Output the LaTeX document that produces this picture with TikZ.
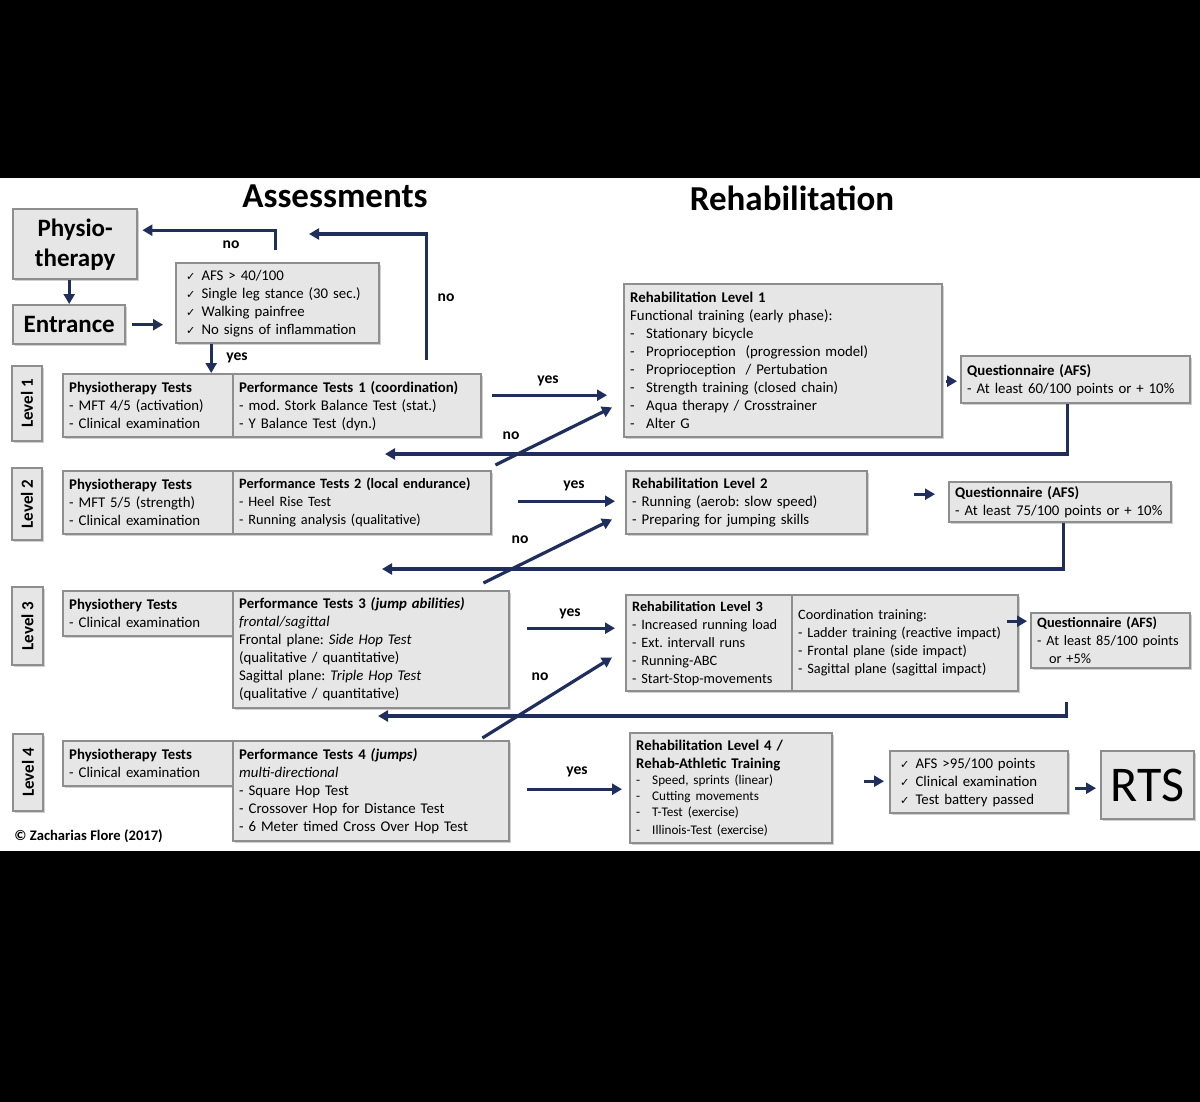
\documentclass[tikz,border=0pt]{standalone}
\usepackage{fontspec}
\setmainfont{Carlito}
\newfontfamily\symf{DejaVu Sans}
\usetikzlibrary{arrows.meta,shadows}
\definecolor{navy}{HTML}{1F2E5C}
\definecolor{boxfill}{HTML}{E6E6E6}
\definecolor{boxline}{HTML}{8E8E8E}
\newcommand\ck{{\symf\fontsize{5.6}{9}\selectfont ✓}\hspace{3pt}}
\newcommand\dsh[1]{\makebox[8pt][l]{-}#1}
\newcommand\mybox[7][]{%
  \pgfmathsetmacro\bxw{(#5-#3)*0.5}%
  \pgfmathsetmacro\bxh{(#6-#4)*0.5}%
  \pgfmathsetmacro\bxt{(#5-#3)*0.5-6}%
  \node[box,anchor=north west,minimum width=\bxw pt,minimum height=\bxh pt,text width=\bxt pt,#1] (#2) at (#3,#4) {#7};}
\begin{document}
\frenchspacing
\hyphenpenalty=10000
\exhyphenpenalty=10000
\begin{tikzpicture}[x=0.5pt,y=-0.5pt,
  box/.style={draw=boxline, fill=boxfill, line width=1.2pt, inner xsep=3pt, inner ysep=1pt, align=left,
    font=\fontsize{7.4}{9}\selectfont,
    drop shadow={shadow xshift=0.8pt, shadow yshift=-0.8pt, opacity=0.3, fill=black!60}},
  small/.style={font=\fontsize{7.15}{9}\selectfont},
  levbox/.style={box, rotate=90, align=center, inner sep=0pt, font=\bfseries\fontsize{8.5}{9}\selectfont},
  arr/.style={draw=navy, line width=1.6pt, -{Triangle[length=5pt,width=5.5pt]}},
  lbl/.style={font=\bfseries\fontsize{7.8}{9}\selectfont, inner sep=0pt},
  title/.style={font=\bfseries\fontsize{17.5}{20}\selectfont, inner sep=0pt}]
\useasboundingbox (0,0) rectangle (1200,1102);
\fill[black] (0,0) rectangle (1200,1102);
\fill[white] (0,178) rectangle (1200,851);

% titles
\node[title] (tA) at (335,196) {Assessments};
\node[title] (tR) at (792,198) {Rehabilitation};

% start
\mybox[align=center, font=\bfseries\fontsize{12.5}{15}\selectfont]{physio}{12}{208}{136}{278}{Physio-\\therapy}
\mybox[align=center, font=\bfseries\fontsize{12.5}{15}\selectfont]{entrance}{12}{304}{124}{343}{Entrance}
\mybox[text width=91.5pt, inner xsep=5pt]{check0}{175}{262}{378}{342}{\ck AFS > 40/100\\\ck Single leg stance (30 sec.)\\\ck Walking painfree\\\ck No signs of inflammation}

% level labels
\node[levbox, minimum width=37.5pt, minimum height=15pt] (lev1) at (27,403.5) {Level 1};
\node[levbox, minimum width=36pt, minimum height=15pt] (lev2) at (27,504) {Level 2};
\node[levbox, minimum width=39pt, minimum height=15.5pt] (lev3) at (27.5,626) {Level 3};
\node[levbox, minimum width=38.5pt, minimum height=15pt] (lev4) at (28,772.5) {Level 4};

% level 1
\mybox{pt1}{62}{373}{232}{436}{\textbf{Physiotherapy Tests}\\- MFT 4/5 (activation)\\- Clinical examination}
\mybox{perf1}{232}{373}{480}{436}{\textbf{Performance Tests 1 (coordination)}\\- mod. Stork Balance Test (stat.)\\- Y Balance Test (dyn.)}
\mybox{rehab1}{623}{283}{941}{436}{\textbf{Rehabilitation Level 1}\\Functional training (early phase):\\
\dsh{Stationary bicycle}\\\dsh{Proprioception\ \ (progression model)}\\\dsh{Proprioception\ \ / Pertubation}\\
\dsh{Strength training (closed chain)}\\\dsh{Aqua therapy / Crosstrainer}\\\dsh{Alter G}}
\mybox{q1}{960}{355}{1189}{402}{\textbf{Questionnaire (AFS)}\\- At least 60/100 points or + 10\%}

% level 2
\mybox{pt2}{62}{470}{232}{533}{\textbf{Physiotherapy Tests}\\- MFT 5/5 (strength)\\- Clinical examination}
\mybox[small]{perf2}{232}{470}{490}{533}{\textbf{Performance Tests 2 (local endurance)}\\- Heel Rise Test\\- Running analysis (qualitative)}
\mybox{rehab2}{625}{470}{866}{533}{\textbf{Rehabilitation Level 2}\\- Running (aerob: slow speed)\\- Preparing for jumping skills}
\mybox{q2}{948}{481}{1170}{521}{\textbf{Questionnaire (AFS)}\\- At least 75/100 points or + 10\%}

% level 3
\mybox{pt3}{62}{590}{232}{635}{\textbf{Physiothery Tests}\\- Clinical examination}
\mybox{perf3}{232}{590}{508}{707}{\textbf{Performance Tests 3 \textit{(jump abilities)}}\\\textit{frontal/sagittal}\\Frontal plane: \textit{Side Hop Test}\\(qualitative / quantitative)\\Sagittal plane: \textit{Triple Hop Test}\\(qualitative / quantitative)}
\mybox[small]{rehab3}{625}{594}{791}{690}{\textbf{Rehabilitation Level 3}\\- Increased running load\\- Ext. intervall runs\\- Running-ABC\\- Start-Stop-movements}
\mybox[small]{coord3}{791}{594}{1017}{690}{Coordination training:\\- Ladder training (reactive impact)\\- Frontal plane (side impact)\\- Sagittal plane (sagittal impact)}
\mybox[small]{q3}{1030}{612}{1189}{667}{\textbf{Questionnaire (AFS)}\\- At least 85/100 points\\\hspace*{6pt}or +5\%}

% level 4
\mybox{pt4}{62}{740}{232}{785}{\textbf{Physiotherapy Tests}\\- Clinical examination}
\mybox{perf4}{232}{740}{508}{840}{\textbf{Performance Tests 4 \textit{(jumps)}}\\\textit{multi-directional}\\- Square Hop Test\\- Crossover Hop for Distance Test\\- 6 Meter timed Cross Over Hop Test}
\mybox{rehab4}{629}{732}{831}{842}{\textbf{Rehabilitation Level 4 /}\\\textbf{Rehab-Athletic Training}\\{\fontsize{6.6}{8}\selectfont\dsh{Speed, sprints (linear)}\\\dsh{Cutting movements}\\\dsh{T-Test (exercise)}\\\dsh{Illinois-Test\ (exercise)}}}
\mybox[inner xsep=5pt, text width=79pt]{check4}{889}{750}{1067}{812}{\ck AFS >95/100 points\\\ck Clinical examination\\\ck Test battery passed}
\mybox[align=center, inner xsep=2pt, text width=42.5pt, font=\fontsize{25}{26}\selectfont]{rts}{1100}{750}{1193}{818}{RTS}

\node[font=\bfseries\fontsize{7.3}{9}\selectfont, anchor=west, inner sep=0pt] (copy) at (14,836) {© Zacharias Flore (2017)};

% connectors top
\draw[arr] (physio.south -| entrance.north) -- (entrance.north);
\draw[arr, shorten >=6pt] ([xshift=3pt]entrance.east) -- (entrance.east -| check0.west);
\draw[arr] ([xshift=-1.25pt,yshift=6pt]check0.north) |- ([xshift=2pt,yshift=7pt]physio.east);
\node[lbl] (lno0) at (231,245) {no};
\draw[arr] ([xshift=-33.25pt]check0.south) -- ([xshift=-33.25pt]check0.south |- pt1.north);
\node[lbl] (lyes0) at (237,358) {yes};
\coordinate (no1e) at (309,234);
\draw[arr] ([xshift=34.75pt,yshift=6.5pt]perf1.north) |- (no1e);
\node[lbl] (lno1) at (446,298) {no};

% level 1 connectors
\coordinate (s1) at ([xshift=5pt,yshift=5.25pt]perf1.east);
\draw[arr, shorten >=8pt] (s1) -- (s1 -| rehab1.west);
\node[lbl] (lyes1) at (548,381) {yes};
\coordinate (r1) at ([xshift=1.5pt,yshift=-10.25pt]rehab1.east);
\draw[arr, shorten >=1.5pt] (r1) -- (r1 -| q1.west);
\coordinate (fb1e) at (385,454);
\draw[arr] ([xshift=-4.25pt]q1.south) |- (fb1e);
\draw[arr] ([xshift=1.5pt,yshift=2.5pt]perf2.north east) -- ([xshift=-5.5pt,yshift=15.5pt]rehab1.south west);
\node[lbl] (lno1d) at (511,436) {no};

% level 2 connectors
\coordinate (s2) at ([xshift=13pt,yshift=0.75pt]perf2.east);
\draw[arr, shorten >=5pt] (s2) -- (s2 -| rehab2.west);
\node[lbl] (lyes2) at (574,486) {yes};
\coordinate (r2) at ([xshift=23pt,yshift=4.25pt]rehab2.east);
\draw[arr, shorten >=6.5pt] (r2) -- (r2 -| q2.west);
\coordinate (fb2e) at (382,569);
\draw[arr] ([xshift=1.5pt]q2.south) |- (fb2e);
\draw[arr] ([xshift=-13.5pt,yshift=3.5pt]perf3.north east) -- ([xshift=-6.5pt,yshift=8pt]rehab2.south west);
\node[lbl] (lno2) at (520,540) {no};

% level 3 connectors
\coordinate (s3) at ([xshift=8.5pt,yshift=10.75pt]perf3.east);
\draw[arr, shorten >=5pt] (s3) -- (s3 -| rehab3.west);
\node[lbl] (lyes3) at (570,614) {yes};
\coordinate (c3) at ([xshift=-6pt,yshift=11pt]coord3.east);
\draw[arr, shorten >=1.5pt] (c3) -- (c3 -| q3.west);
\coordinate (fb3e) at (378,716);
\draw[arr] ([xshift=-22.25pt,yshift=-16.5pt]q3.south) |- (fb3e);
\draw[arr] ([xshift=-14pt,yshift=1pt]perf4.north east) -- ([xshift=-6.5pt,yshift=17.5pt]rehab3.south west);
\node[lbl] (lno3) at (540,677) {no};

% level 4 connectors
\coordinate (s4) at ([xshift=8.5pt,yshift=1pt]perf4.east);
\draw[arr, shorten >=3.5pt] (s4) -- (s4 -| rehab4.west);
\node[lbl] (lyes4) at (577,772) {yes};
\coordinate (r4) at ([xshift=15.5pt,yshift=3.5pt]rehab4.east);
\draw[arr, shorten >=2.5pt] (r4) -- (r4 -| check4.west);
\coordinate (c4) at ([xshift=3pt,yshift=-3pt]check4.east);
\draw[arr, shorten >=2pt] (c4) -- (c4 -| rts.west);
\end{tikzpicture}
\end{document}
